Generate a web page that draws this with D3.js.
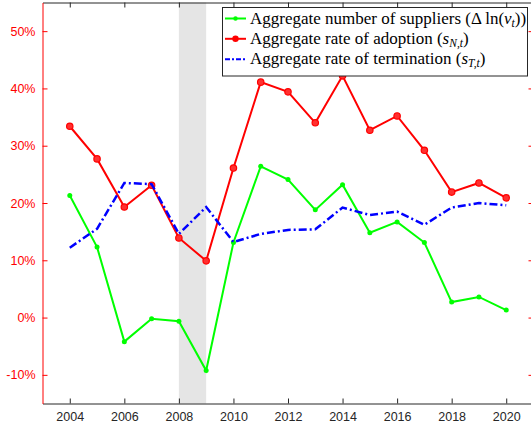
<!DOCTYPE html>
<html><head><meta charset="utf-8">
<script src="https://cdn.jsdelivr.net/npm/d3@7"></script>
<style>html,body{margin:0;padding:0;background:#fff;overflow:hidden}</style>
</head><body>
<script>
const years = [2004,2005,2006,2007,2008,2009,2010,2011,2012,2013,2014,2015,2016,2017,2018,2019,2020];
const suppliers = [21.3,12.3,-4.2,-0.2,-0.65,-9.25,13.1,26.4,24.1,18.8,23.2,14.8,16.7,13.1,2.7,3.6,1.3];
const adoption = [33.4,27.7,19.3,23.1,13.9,9.9,26.1,41.1,39.4,34.0,42.2,32.7,35.2,29.2,21.9,23.5,20.9];
const termination = [12.2,15.5,23.5,23.3,14.6,19.3,13.2,14.6,15.3,15.4,19.2,17.9,18.5,16.2,19.2,20.0,19.6];
const xTicks = [2004,2006,2008,2010,2012,2014,2016,2018,2020];
const yTicks = [-10,0,10,20,30,40,50];
const recession = [2008,2009];

(function(){
const W=531,H=431;
const L=42.5,R=533.5,T=2.5,B=403.5;
const svg=d3.select("body").append("svg").attr("width",W).attr("height",H);
const x=d3.scaleLinear().domain([2003,2021]).range([L,R]);
const y=d3.scaleLinear().domain([-15,55]).range([B,T]);

svg.append("rect").attr("x",x(recession[0])).attr("y",T).attr("width",x(recession[1])-x(recession[0])).attr("height",B-T).attr("fill","#e5e5e5");

const gB=svg.append("g").attr("transform",`translate(0,${B})`).call(d3.axisBottom(x).tickValues(xTicks).tickFormat(d3.format("d")).tickSizeInner(-5).tickSizeOuter(0).tickPadding(9));
gB.select(".domain").attr("stroke","#262626");
gB.selectAll(".tick line").attr("stroke","#262626");
gB.selectAll("text").attr("fill","#262626").style("font-family","Liberation Sans, Arial, sans-serif").style("font-size","12.5px");
const gT=svg.append("g").attr("transform",`translate(0,${T})`).call(d3.axisTop(x).tickValues(xTicks).tickFormat("").tickSizeInner(-5).tickSizeOuter(0));
gT.select(".domain").attr("stroke","#262626");
gT.selectAll(".tick line").attr("stroke","#262626");
const gL=svg.append("g").attr("transform",`translate(${L},0)`).call(d3.axisLeft(y).tickValues(yTicks).tickFormat(d=>d+"%").tickSizeInner(-5).tickSizeOuter(0).tickPadding(7));
gL.select(".domain").attr("stroke","#ff0000");
gL.selectAll(".tick line").attr("stroke","#ff0000");
gL.selectAll("text").attr("fill","#ff0000").style("font-family","Liberation Sans, Arial, sans-serif").style("font-size","12.5px");
const gR=svg.append("g").attr("transform",`translate(${R},0)`).call(d3.axisRight(y).tickValues(yTicks).tickFormat("").tickSizeInner(-5).tickSizeOuter(0));
gR.select(".domain").attr("stroke","#ff0000");
gR.selectAll(".tick line").attr("stroke","#ff0000");

const line=d3.line().x((d,i)=>x(years[i])).y(d=>y(d));
svg.append("path").datum(suppliers).attr("d",line).attr("fill","none").attr("stroke","#00ff00").attr("stroke-width",2);
svg.append("g").selectAll("circle").data(suppliers).join("circle").attr("cx",(d,i)=>x(years[i])).attr("cy",d=>y(d)).attr("r",2.5).attr("fill","#00ff00");
svg.append("path").datum(adoption).attr("d",line).attr("fill","none").attr("stroke","#ff0000").attr("stroke-width",2);
svg.append("g").selectAll("circle").data(adoption).join("circle").attr("cx",(d,i)=>x(years[i])).attr("cy",d=>y(d)).attr("r",3.2).attr("fill","#ff3030").attr("stroke","#ff0000").attr("stroke-width",1.2);
svg.append("path").datum(termination).attr("d",line).attr("fill","none").attr("stroke","#0000ff").attr("stroke-width",2.5).attr("stroke-dasharray","8,3,2,3");

const lg=svg.append("g");
lg.append("rect").attr("x",222.5).attr("y",7.5).attr("width",305).attr("height",68.5).attr("fill","#fff").attr("stroke","#262626").attr("stroke-width",1);
const items=[
 {c:"#00ff00",dash:null,mk:2.2,len:273,parts:[["Aggregate number of suppliers (Δ ln(",""],["v","i"],["t","sub"],["))","up"]]},
 {c:"#ff0000",dash:null,mk:3.2,len:206,parts:[["Aggregate rate of adoption (",""],["s","i"],["N,t","sub"],[")","up"]]},
 {c:"#0000ff",dash:"5,2,2,2",mk:0,len:229,parts:[["Aggregate rate of termination (",""],["s","i"],["T,t","sub"],[")","up"]]}
];
const ly=[18.5,38.8,59.3];
items.forEach((it,k)=>{
  const yy=ly[k];
  lg.append("line").attr("x1",225).attr("x2",246).attr("y1",yy).attr("y2",yy).attr("stroke",it.c).attr("stroke-width",2).attr("stroke-dasharray",it.dash);
  if(it.mk) lg.append("circle").attr("cx",235.5).attr("cy",yy).attr("r",it.mk).attr("fill",it.c);
  const t=lg.append("text").attr("x",250).attr("y",yy+5).style("font-family","'Liberation Serif', serif").style("font-size","17px").attr("fill","#000");
  let n=0;
  it.parts.forEach(p=>{
    const s=t.append("tspan").text(p[0]);
    n+=p[0].length;
    if(p[1]==="i") s.style("font-style","italic");
    if(p[1]==="sub") s.style("font-style","italic").style("font-size","11.5px").attr("dy",3);
    if(p[1]==="up") s.attr("dy",-3);
  });
  const w=t.node().getComputedTextLength();
  const ls=Math.max(0,(it.len-w)/n);
  t.style("letter-spacing",ls+"px");
});
})();
</script>
</body></html>
